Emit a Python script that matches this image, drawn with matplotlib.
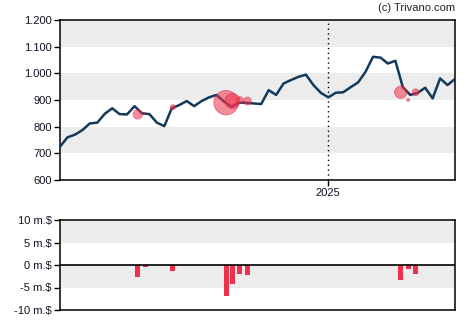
import matplotlib
matplotlib.use("Agg")
import matplotlib.pyplot as plt
import numpy as np
import pandas as pd

plt.rcParams['font.family'] = ['Liberation Sans', 'DejaVu Sans']

# weekly closing prices
price_dates = pd.date_range("2024-04-24", periods=54, freq="7D")
prices = [725, 760, 770, 787, 812, 815, 848, 869, 847, 846,
          877, 850, 847, 815, 802, 869, 881, 896, 877, 896,
          910, 919, 894, 875, 890, 890, 887, 885, 937, 919,
          962, 975, 987, 995, 956, 927, 910, 927, 929, 948,
          966, 1006, 1062, 1059, 1037, 1047, 948, 919, 927, 946,
          906, 981, 956, 979]

# insider trades: date, trade price, net value (million $)
trade_dates = pd.to_datetime(["2024-07-06", "2024-07-13", "2024-08-08",
                              "2024-09-27", "2024-10-03", "2024-10-10",
                              "2024-10-17", "2025-03-10", "2025-03-17",
                              "2025-03-24"])
trade_prices = [846, 850, 873, 890, 896, 900, 896, 929, 900, 929]
trade_values = [-2.6, -0.4, -1.4, -6.8, -4.2, -1.9, -2.2, -3.4, -0.8, -1.9]

year_mark = pd.Timestamp("2025-01-01")

line_col = "#123a5c"
red = "#f0304a"
band = "#ececec"

fig = plt.figure(figsize=(4.7, 3.25), dpi=100)
ax = fig.add_axes([60/470, 1-180/325, 395/470, 160/325])
ax2 = fig.add_axes([60/470, 1-310/325, 395/470, 90/325])

# price panel
for lo in (600, 800, 1000):
    ax.axhspan(lo + 100, lo + 200, color=band, lw=0, zorder=0)
ax.plot(price_dates, prices, color=line_col, lw=1.8, zorder=3)
sizes = [(2 * 1.8 * abs(v) * 0.72) ** 2 for v in trade_values]
ax.scatter(trade_dates, trade_prices, s=sizes, color=red, alpha=0.55,
           edgecolors="#e02040", linewidths=0.6, zorder=4)
ax.axvline(year_mark, color="black", ls=(0, (1, 2.5)), lw=1, zorder=2)
ax.set_ylim(600, 1200)
ax.set_yticks(np.arange(600, 1201, 100))
ax.set_yticklabels([f"{v:,}".replace(",", ".") for v in range(600, 1201, 100)])
ax.set_xticks([year_mark])
ax.set_xticklabels(["2025"])

# trade value panel
for lo in (-5, 5):
    ax2.axhspan(lo, lo + 5, color=band, lw=0, zorder=0)
ax2.bar(trade_dates, trade_values, width=4.7, color=red, zorder=3)
ax2.axhline(0, color="black", lw=1.2, zorder=4)
ax2.set_ylim(-10, 10)
ax2.set_yticks([10, 5, 0, -5, -10])
ax2.set_yticklabels(["10 m.$", "5 m.$", "0 m.$", "-5 m.$", "-10 m.$"])
ax2.set_xticks([])

for a in (ax, ax2):
    a.set_xlim(price_dates[0], price_dates[-1])
    a.tick_params(axis="both", labelsize=8, length=4, width=1, pad=2,
                  colors="black", labelcolor="#111122")
    for sp in a.spines.values():
        sp.set_linewidth(1.1)

fig.text(455/470, 1-8/325, "(c) Trivano.com", ha="right", va="center",
         fontsize=8, color="#222222")

fig.savefig("out.png", dpi=100)
